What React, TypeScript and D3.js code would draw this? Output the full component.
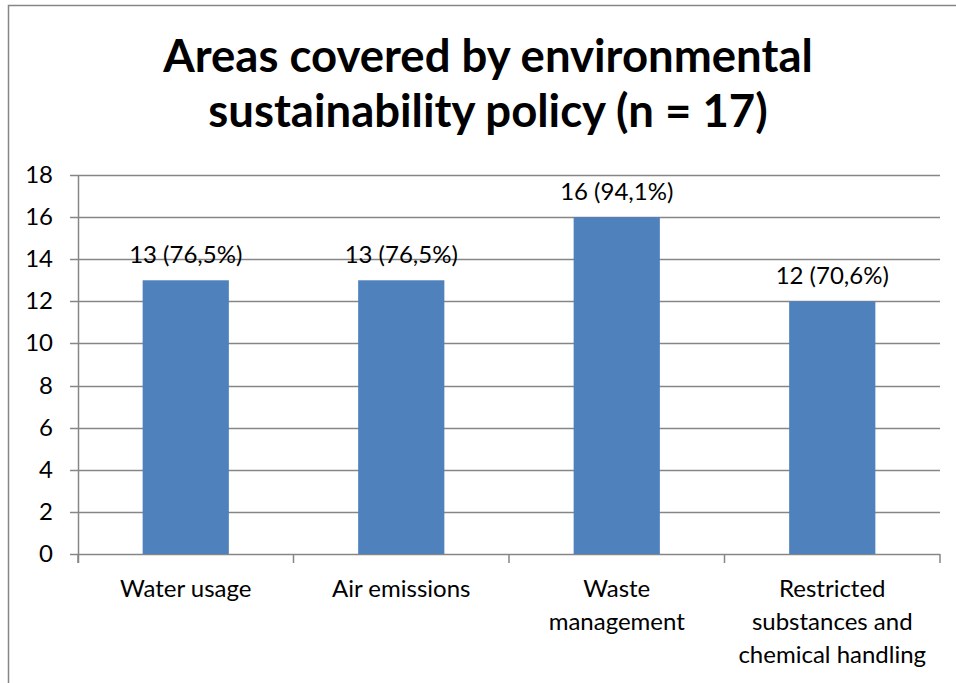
import React from 'react';
import * as d3 from 'd3';

const categories: string[][] = [
  ['Water usage'],
  ['Air emissions'],
  ['Waste', 'management'],
  ['Restricted', 'substances and', 'chemical handling'],
];
const values: number[] = [13, 13, 16, 12];
const dataLabels: string[] = ['13 (76,5%)', '13 (76,5%)', '16 (94,1%)', '12 (70,6%)'];
const yTicks: number[] = [0, 2, 4, 6, 8, 10, 12, 14, 16, 18];
const titleLines: string[] = ['Areas covered by environmental', 'sustainability policy (n = 17)'];

const W = 956;
const H = 683;
const FONT = 'Lato, Carlito, Calibri, sans-serif';

export default function App() {
  const left = 78, right = 940, top = 175, bottom = 554;
  const y = d3.scaleLinear().domain([0, 18]).range([bottom, top]);
  const x = d3.scaleBand<number>().domain(d3.range(categories.length)).range([left, right]).padding(0);
  const bw = x.bandwidth() * 0.4;
  const grid = '#868686';
  const boundaries = d3.range(categories.length + 1).map((i) => left + i * x.step());

  return (
    <svg width={W} height={H} style={{ position: 'absolute', left: 0, top: 0, background: '#fff' }}>
      <rect x={8.5} y={5.5} width={1000} height={720} fill="#fff" stroke={grid} strokeWidth={1.5} />
      <g fontFamily={FONT} fontWeight="bold" fontSize={45.5} textAnchor="middle" fill="#000">
        {titleLines.map((t, i) => (
          <text key={i} x={488} y={72 + i * 55}>{t}</text>
        ))}
      </g>
      {yTicks.map((t) => (
        <g key={t}>
          <line x1={70} x2={right} y1={Math.round(y(t)) + 0.5} y2={Math.round(y(t)) + 0.5} stroke={grid} strokeWidth={1.5} />
          <text x={53} y={y(t) + 8} textAnchor="end" fontFamily={FONT} fontSize={24} fill="#000">{t}</text>
        </g>
      ))}
      {values.map((v, i) => {
        const cx = (x(i) as number) + x.bandwidth() / 2;
        return (
          <g key={i}>
            <rect x={cx - bw / 2} y={y(v)} width={bw} height={y(0) - y(v)} fill="#4F81BD" />
            <text x={cx} y={y(v) - 17} textAnchor="middle" fontFamily={FONT} fontSize={24} fill="#000">{dataLabels[i]}</text>
            {categories[i].map((ln, j) => (
              <text key={j} x={cx} y={597 + j * 33} textAnchor="middle" fontFamily={FONT} fontSize={24} fill="#000">{ln}</text>
            ))}
          </g>
        );
      })}
      <line x1={left + 0.5} x2={left + 0.5} y1={top} y2={bottom + 9} stroke={grid} strokeWidth={1.5} />
      {boundaries.map((bx, i) => (
        <line key={i} x1={bx} x2={bx} y1={bottom} y2={bottom + 9} stroke={grid} strokeWidth={1.5} />
      ))}
    </svg>
  );
}
